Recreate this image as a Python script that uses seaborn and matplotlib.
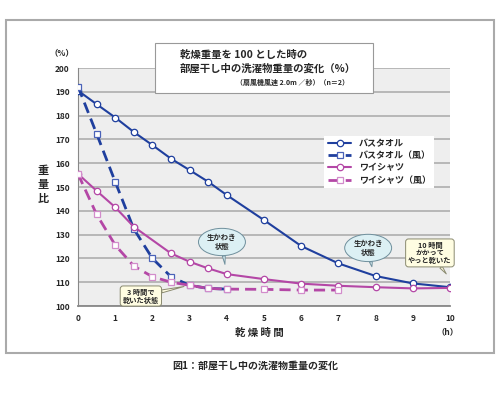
import matplotlib
matplotlib.use('Agg')
import matplotlib.pyplot as plt
from matplotlib.patches import Rectangle
import seaborn as sns
import pandas as pd

# データ
t_towel = [0, 0.5, 1, 1.5, 2, 2.5, 3, 3.5, 4, 5, 6, 7, 8, 9, 10]
towel = [190.5, 184.8, 179.2, 173.1, 167.6, 161.9, 157.1, 152.2, 146.6, 136.1, 125.2, 117.9, 112.6, 109.5, 107.9]

t_towel_wind = [0, 0.5, 1, 1.5, 2, 2.5, 3, 3.5, 4]
towel_wind = [192.2, 172.4, 152.2, 132.4, 120.0, 112.3, 108.7, 107.4, 107.1]

t_shirt = [0, 0.5, 1, 1.5, 2.5, 3, 3.5, 4, 5, 6, 7, 8, 9, 10]
shirt = [155.5, 148.4, 141.5, 133.3, 122.1, 118.6, 115.8, 113.4, 111.3, 109.4, 108.5, 107.9, 107.4, 107.6]

t_shirt_wind = [0, 0.5, 1, 1.5, 2, 2.5, 3, 3.5, 4, 5, 6, 7]
shirt_wind = [155.5, 138.5, 125.6, 116.8, 112.3, 110.0, 108.7, 107.4, 107.1, 107.0, 106.7, 106.7]

labels = ['バスタオル', 'バスタオル（風）', 'ワイシャツ', 'ワイシャツ（風）']
x_ticks = list(range(0, 11))
y_ticks = list(range(100, 201, 10))

BLUE = '#1f3f9e'
PINK = '#b447a6'

sns.set_style('white')
plt.rcParams['font.family'] = ['Noto Sans CJK JP', 'DejaVu Sans']
plt.rcParams['font.weight'] = 'bold'

fig = plt.figure(figsize=(5, 3.97), dpi=100)
ax = fig.add_axes([0.156, 0.2292, 0.744, 0.5995])
ax.set_facecolor('#eeeeee')

series = [
    (t_towel, towel, BLUE, 'o', '-', BLUE),
    (t_towel_wind, towel_wind, BLUE, 's', (0, (4, 2.2)), '#4a62b8'),
    (t_shirt, shirt, PINK, 'o', '-', PINK),
    (t_shirt_wind, shirt_wind, PINK, 's', (0, (4, 2.2)), '#d28ccb'),
]
for (tx, ty, col, mk, ls, mec), lab in zip(series, labels):
    df = pd.DataFrame({'t': tx, 'v': ty})
    lw = 1.5 if ls == '-' else 2.0
    sns.lineplot(data=df, x='t', y='v', ax=ax, color=col, linestyle=ls,
                 linewidth=lw, marker=mk, markersize=4.6, markerfacecolor='white',
                 markeredgecolor=mec, markeredgewidth=0.9, label=lab, zorder=3)

ax.set_xlim(0, 10)
ax.set_ylim(100, 200)
ax.set_xticks(x_ticks)
ax.set_yticks(y_ticks)
ax.set_xticklabels([str(v) for v in x_ticks], fontsize=6, fontweight='bold')
ax.set_yticklabels([str(v) for v in y_ticks], fontsize=6, fontweight='bold')
ax.tick_params(length=0, pad=6)
ax.set_xlabel('')
ax.set_ylabel('')
ax.grid(axis='y', color='#a8a8a8', linewidth=1.1)
ax.grid(axis='x', visible=False)
for s in ['top', 'right']:
    ax.spines[s].set_visible(False)
ax.spines['left'].set_color('#888888')
ax.spines['left'].set_linewidth(0.8)
ax.spines['bottom'].set_color('#888888')
ax.spines['bottom'].set_linewidth(1.3)

leg = ax.legend(loc='upper left', bbox_to_anchor=(0.65, 0.735), fontsize=6.5,
                frameon=True, fancybox=False, framealpha=1, edgecolor='white',
                handlelength=2.6, labelspacing=0.35, borderpad=0.4)
leg.get_frame().set_linewidth(0)

# 吹き出し
bubble_blue = dict(boxstyle='ellipse,pad=0.25', fc='#dcf0f4', ec='#6f8f9c', lw=0.7)
bubble_yel = dict(boxstyle='round,pad=0.35,rounding_size=0.4', fc='#fffde2', ec='#8a8a70', lw=0.7)
tail_blue = dict(arrowstyle='wedge,tail_width=0.4,shrink_factor=0.5',
                 fc='#dcf0f4', ec='#6f8f9c', lw=0.7, shrinkA=0, shrinkB=0)
tail_yel = dict(arrowstyle='wedge,tail_width=0.4,shrink_factor=0.5',
                fc='#fffde2', ec='#8a8a70', lw=0.7, shrinkA=0, shrinkB=0)
ax.annotate('生かわき\n状態', xy=(3.95, 117.5), xytext=(3.87, 126.9), ha='center', va='center',
            fontsize=5.3, fontweight='bold', bbox=bubble_blue, zorder=5, arrowprops=tail_blue)
ax.annotate('生かわき\n状態', xy=(7.9, 116.5), xytext=(7.8, 124.4), ha='center', va='center',
            fontsize=5.3, fontweight='bold', bbox=bubble_blue, zorder=5, arrowprops=tail_blue)
ax.annotate('10 時間\nかかって\nやっと乾いた', xy=(9.9, 113.5), xytext=(9.46, 122.3), ha='center',
            va='center', fontsize=5.2, fontweight='bold', bbox=bubble_yel, zorder=5,
            linespacing=1.15, annotation_clip=False, arrowprops=tail_yel)
ax.annotate('3 時間で\n乾いた状態', xy=(2.85, 108.2), xytext=(1.69, 104.2), ha='center',
            va='center', fontsize=5.2, fontweight='bold', bbox=bubble_yel, zorder=5,
            linespacing=1.15, annotation_clip=False, arrowprops=tail_yel)

# 外枠
fig.patches.append(Rectangle((0.012, 0.111), 0.976, 0.8386, transform=fig.transFigure,
                             fill=False, ec='#aaaaaa', lw=1.5, zorder=0))
# タイトル枠
fig.patches.append(Rectangle((0.31, 0.7657), 0.436, 0.126, transform=fig.transFigure,
                             fc='white', ec='#999999', lw=0.8, zorder=2))
fig.text(0.36, 1 - 55 / 397, '乾燥重量を 100 とした時の', fontsize=7.5, fontweight='bold',
         ha='left', va='center', zorder=3)
fig.text(0.36, 1 - 69 / 397, '部屋干し中の洗濯物重量の変化（%）', fontsize=7.5, fontweight='bold',
         ha='left', va='center', zorder=3)
fig.text(0.697, 1 - 82 / 397, '（扇風機風速 2.0m ／秒）（n＝2）', fontsize=5, fontweight='bold',
         ha='right', va='center', zorder=3)

fig.text(62 / 500, 1 - 53 / 397, '（%）', fontsize=6, fontweight='bold', ha='center', va='center')
fig.text(43 / 500, 1 - 185 / 397, '重\n量\n比', fontsize=8, fontweight='bold', ha='center',
         va='center', linespacing=1.1)
fig.text(448 / 500, 1 - 332 / 397, '（h）', fontsize=6, fontweight='bold', ha='center', va='center')
fig.text(259 / 500, 1 - 333 / 397, '乾 燥 時 間', fontsize=7.5, fontweight='bold', ha='center',
         va='center')
fig.text(172 / 500, 1 - 366 / 397, '図1：部屋干し中の洗濯物重量の変化', fontsize=7.2,
         fontweight='bold', ha='left', va='center')

fig.savefig('out.png', dpi=100)
